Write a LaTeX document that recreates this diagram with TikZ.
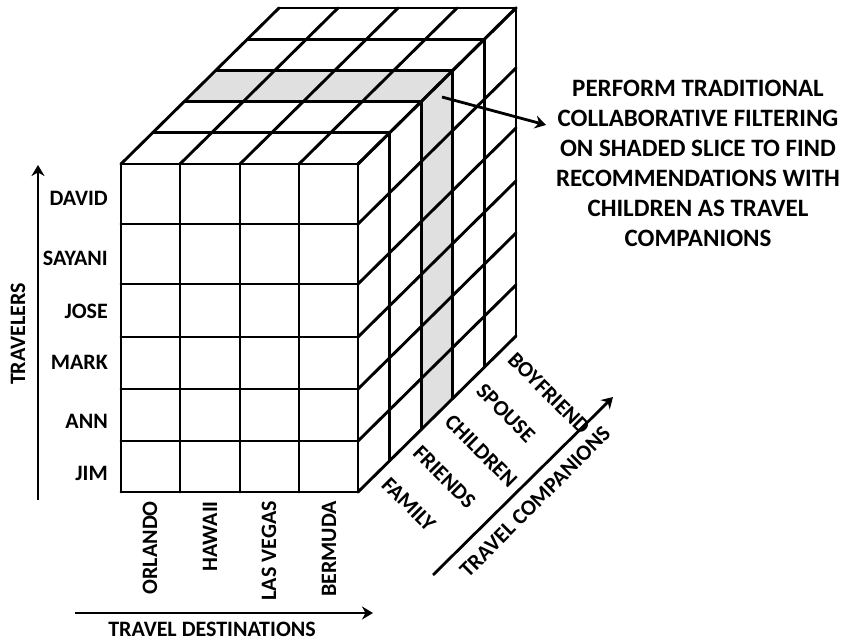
\documentclass[tikz,border=0pt]{standalone}
\usepackage{fontspec}
\setmainfont{Carlito}
\usepackage{tikz}
\usetikzlibrary{arrows.meta, positioning}

\begin{document}
\begin{tikzpicture}[
			x=1pt, y=-1pt,
			gridline/.style={line width=2.9pt, line cap=round, line join=round},
			slicefill/.style={fill=black!12},
			namelabel/.style={font=\bfseries\fontsize{22}{26}\selectfont, inner sep=2pt},
			note/.style={font=\bfseries\fontsize{25}{30}\selectfont, align=center, inner sep=3pt},
			arrow/.style={-{Stealth[length=11pt, width=13pt]}, line width=2.8pt}
			]
			\useasboundingbox (0,0) rectangle (841,642);
			\def\dx{31.6}
			\def\dy{31.2}
			% shaded slice (children)
			\path[slicefill] ({121+2*\dx},{164-2*\dy}) -- ({358+2*\dx},{164-2*\dy})
				-- ({358+3*\dx},{164-3*\dy}) -- ({121+3*\dx},{164-3*\dy}) -- cycle;
			\path[slicefill] ({358+2*\dx},{164-2*\dy}) -- ({358+3*\dx},{164-3*\dy})
				-- ({358+3*\dx},{492-3*\dy}) -- ({358+2*\dx},{492-2*\dy}) -- cycle;
			
			% front face
			\foreach \y in {164,224,284,337,389,441,492}
				\draw[gridline] (121,\y) -- (358,\y);
			\foreach \x in {121,180,240,299,358}
				\draw[gridline] (\x,164) -- (\x,492);
			% top face
			\foreach \d in {1,...,5}
				\draw[gridline] ({121+\d*\dx},{164-\d*\dy}) -- ({358+\d*\dx},{164-\d*\dy});
			\foreach \x in {121,180,240,299,358}
				\draw[gridline] (\x,164) -- ++({5*\dx},{-5*\dy});
			% side face
			\foreach \d in {1,...,5}
				\draw[gridline] ({358+\d*\dx},{164-\d*\dy}) -- ({358+\d*\dx},{492-\d*\dy});
			\foreach \y in {164,224,284,337,389,441,492}
				\draw[gridline] (358,\y) -- ++({5*\dx},{-5*\dy});
			
			% travelers
			\foreach \n/\y in {DAVID/198, SAYANI/258, JOSE/311, MARK/362, ANN/421, JIM/473}
				\node[namelabel, anchor=east] (\n) at (110,\y) {\n};
			% destinations
			\foreach \n/\x [count=\i] in {ORLANDO/150, HAWAII/210, LAS VEGAS/269, BERMUDA/329}
				\node[namelabel, rotate=90, anchor=east] (dest\i) at (\x,499) {\n};
			% companions
			\foreach \n [count=\i from 0] in {FAMILY, FRIENDS, CHILDREN, SPOUSE, BOYFRIEND}
				\node[namelabel, rotate=-45, anchor=west] (comp\i)
					at ({358+(\i+0.5)*\dx+10},{492-(\i+0.5)*\dy+3}) {\n};
			
			% axes
			\node[namelabel, rotate=90] (travelers) at (18,334) {TRAVELERS};
			\node[namelabel] (destinations) at (212,629) {TRAVEL DESTINATIONS};
			\node[namelabel, rotate=45] (companions) at (535,502) {TRAVEL COMPANIONS};
			\coordinate (tstart) at (38,500);
			\coordinate (tend) at (38,165);
			\coordinate (dstart) at (75,613);
			\coordinate (dend) at (373,613);
			\coordinate (cstart) at (433,575);
			\coordinate (cend) at (613,397);
			\draw[arrow] (tstart) -- (tend);
			\draw[arrow] (dstart) -- (dend);
			\draw[arrow] (cstart) -- (cend);
			
			% callout
			\node[note] (note) at (698,163) {PERFORM TRADITIONAL\\COLLABORATIVE FILTERING\\ON SHADED SLICE TO FIND\\RECOMMENDATIONS WITH\\CHILDREN AS TRAVEL\\COMPANIONS};
			\coordinate (slicept) at (442,97);
			\draw[arrow, shorten >=7pt] (slicept) -- (note.166);
		\end{tikzpicture}
\end{document}
